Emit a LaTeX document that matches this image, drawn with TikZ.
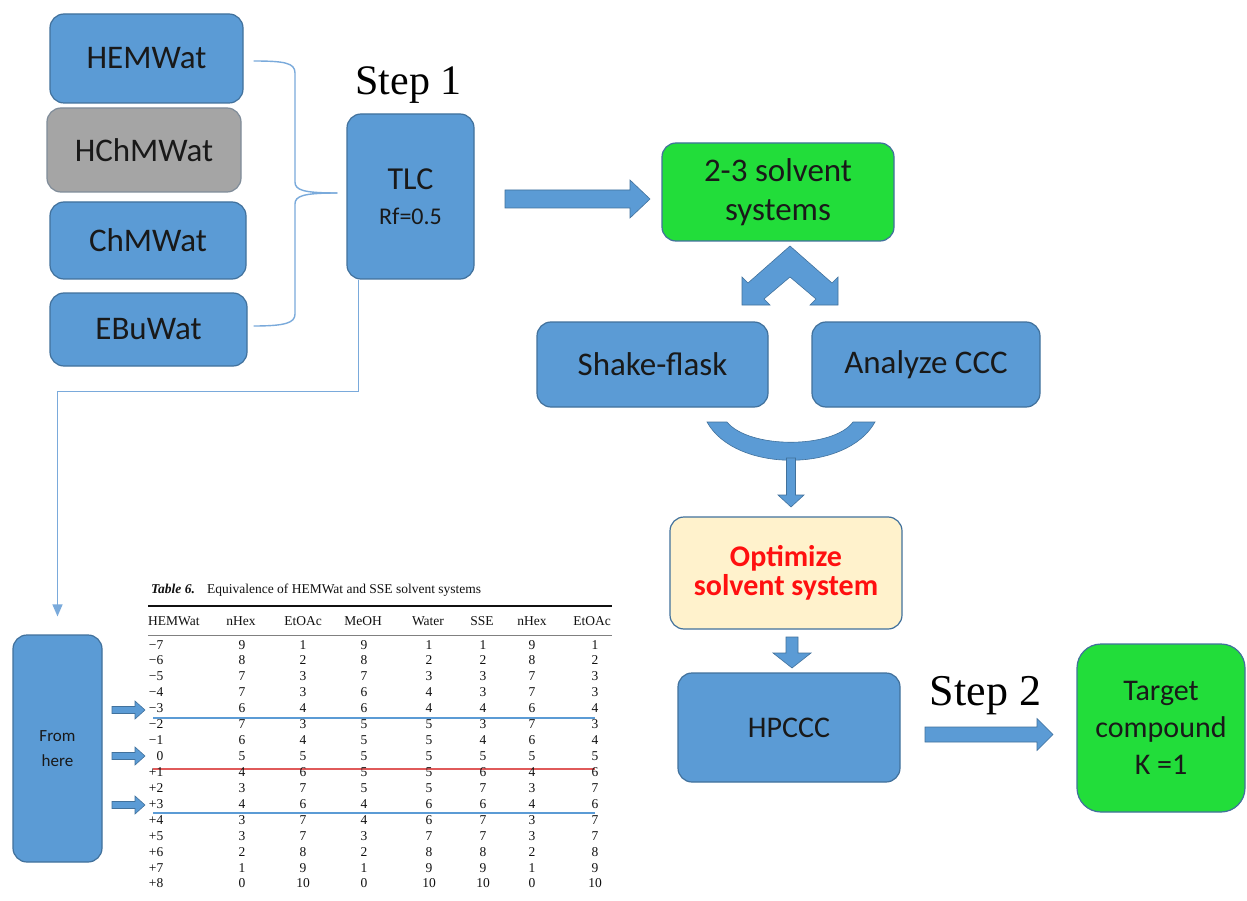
\documentclass[tikz,border=0pt]{standalone}
\usepackage{fontspec}
\setmainfont{Carlito}
\newfontfamily\timesf{Liberation Serif}
\usetikzlibrary{arrows.meta,calc}
\definecolor{boxblue}{HTML}{5B9BD5}
\definecolor{edgeblue}{HTML}{41719C}
\definecolor{lgreen}{HTML}{22DD3A}
\definecolor{cream}{HTML}{FFF2CC}
\definecolor{greybox}{HTML}{A5A5A5}
\definecolor{greyedge}{HTML}{7F8C99}
\definecolor{linkblue}{HTML}{7AAADB}
\definecolor{tablered}{HTML}{E05A5A}
\definecolor{tabtext}{HTML}{111111}
\definecolor{optred}{HTML}{FF1010}
\newcommand\harrow[6]{% x1 x2 y shafthalf headhalf headlen
  \filldraw[barrow] (#1,#3-#4) -- (#2-#6,#3-#4) -- (#2-#6,#3-#5) -- (#2,#3)
    -- (#2-#6,#3+#5) -- (#2-#6,#3+#4) -- (#1,#3+#4) -- cycle;}
\newcommand\varrow[6]{% x y1 y2 shafthalf headhalf headlen
  \filldraw[barrow] (#1-#4,#2) -- (#1+#4,#2) -- (#1+#4,#3-#6) -- (#1+#5,#3-#6)
    -- (#1,#3) -- (#1-#5,#3-#6) -- (#1-#4,#3-#6) -- cycle;}
\begin{document}
\begin{tikzpicture}[x=1pt,y=-1pt,
  box/.style={rectangle,rounded corners=14pt,draw=edgeblue,line width=1.2pt,
    fill=boxblue,font=\fontsize{33}{39}\selectfont,align=center,
    text=black!90,inner sep=0pt},
  greenbox/.style={box,fill=lgreen},
  barrow/.style={fill=boxblue,draw=edgeblue,line width=0.6pt,line join=miter},
  link/.style={draw=linkblue,line width=1.4pt},
  steplbl/.style={font=\timesf\fontsize{42}{48}\selectfont,inner sep=0pt,anchor=base},
  tab/.style={font=\timesf\fontsize{13.5}{16}\selectfont,text=tabtext,inner sep=0pt}]
\useasboundingbox[fill=white] (0,0) rectangle (1247,901);

% left solvent family boxes
\node[box,minimum width=193pt,minimum height=89pt] (hem) at (146.5,58.5) {HEMWat};
\node[box,fill=greybox,draw=greyedge,minimum width=194pt,minimum height=84pt] (hch) at (144,150) {HChMWat};
\node[box,minimum width=196pt,minimum height=77pt] (chm) at (148,240.5) {ChMWat};
\node[box,minimum width=197pt,minimum height=73pt] (ebu) at (148.5,329.5) {EBuWat};

% TLC
\node[box,minimum width=127pt,minimum height=165pt] (tlc) at (410.5,196.5)
  {{\fontsize{32}{36}\selectfont TLC}\\[-4pt]{\fontsize{24}{28}\selectfont Rf=0.5}};
\node[steplbl] (step1) at (408.5,95) {Step 1};

% brace
\coordinate (btop) at ($(hem.east)+(10,2.5)$);
\coordinate (bbot) at ($(ebu.east)+(6,-3.5)$);
\coordinate (btip) at ($(tlc.west)+(-9,-3.5)$);
\draw[link] (btop) .. controls (285,61) and (295,63) .. (295,73) -- (295,182)
  .. controls (295,190) and (303,193) .. (btip);
\draw[link] (btip) .. controls (303,193) and (295,196) .. (295,204) -- (295,314)
  .. controls (295,323) and (285,326) .. (bbot);

% right column
\node[greenbox,minimum width=232pt,minimum height=98pt] (sol) at (778,192) {2-3 solvent\\systems};
\node[box,minimum width=231pt,minimum height=85pt] (shake) at (652.5,364.5) {Shake-flask};
\node[box,minimum width=228pt,minimum height=85pt] (ana) at (926,364.5) {Analyze CCC};
\node[box,fill=cream,minimum width=232pt,minimum height=112pt,text=optred,
  font=\bfseries\fontsize{30}{29}\selectfont] (opt) at (786,573) {Optimize\\solvent system};
\node[box,minimum width=222pt,minimum height=109pt,font=\fontsize{30}{36}\selectfont] (hp) at (789,727.5) {HPCCC};
\node[greenbox,rounded corners=24pt,minimum width=168pt,minimum height=168pt,
  font=\fontsize{30}{37}\selectfont] (tgt) at (1161,728) {Target\\compound\\K =1};
\node[steplbl,font=\timesf\fontsize{44}{50}\selectfont] (step2) at (985.5,705) {Step 2};

% block arrows
\harrow{505}{650}{199}{9}{19}{20}
\harrow{925}{1053}{734.5}{7.5}{16}{16}
\filldraw[barrow] (790,246) -- (748,283) -- (742,277) -- (742,305) -- (770,305)
  -- (764,299) -- (790,277) -- (816,299) -- (810,305) -- (838,305) -- (838,277)
  -- (832,283) -- cycle;
\filldraw[barrow] (707,422) .. controls (735,473) and (847,473) .. (875,422)
  -- (853,422) .. controls (833,449) and (749,449) .. (727,422) -- cycle;
\varrow{791}{458}{507}{4.5}{13}{12}
\varrow{792}{637}{668}{6}{19}{15}

% from-here box and link from TLC
\node[box,minimum width=89pt,minimum height=227pt,font=\fontsize{17}{25}\selectfont] (from) at (57.5,748.5) {From\\here};
\draw[link,-{Triangle[width=10pt,length=12pt]}] ($(tlc.south west)+(12,0)$) -- ++(0,112)
  -| ($(from.north)+(0,-18)$);
\harrow{112}{145}{710}{3.5}{9}{10}
\harrow{112}{145}{756}{3.5}{9}{10}
\harrow{112}{145}{805}{3.5}{9}{10}

% table
\node[tab,anchor=base west] (cap) at (151,593)
  {\textbf{\textit{Table 6.}}\hspace{0.9em}Equivalence of HEMWat and SSE solvent systems};
\draw[line width=2pt,draw=tabtext] (148,606) -- (612,606);
\node[tab,anchor=base west] (h0) at (148,625) {HEMWat};
\foreach \x/\t [count=\k] in {241/nHex,303/EtOAc,363/MeOH,428/Water,482/SSE,532/nHex,592/EtOAc}
  \node[tab,anchor=base] (h\k) at (\x,625) {\t};
\draw[line width=0.8pt,draw=gray] (148,635) -- (612,635);
\draw[line width=1.4pt,draw=boxblue] (153,718) -- (595,718);
\draw[line width=1.4pt,draw=tablered] (153,769) -- (595,769);
\draw[line width=1.4pt,draw=boxblue] (153,813) -- (595,813);
\foreach \a/\b/\c/\d/\e/\f/\g/\h [count=\i from 0] in {
  −7/9/1/9/1/1/9/1, −6/8/2/8/2/2/8/2, −5/7/3/7/3/3/7/3, −4/7/3/6/4/3/7/3,
  −3/6/4/6/4/4/6/4, −2/7/3/5/5/3/7/3, −1/6/4/5/5/4/6/4, 0/5/5/5/5/5/5/5,
  +1/4/6/5/5/6/4/6, +2/3/7/5/5/7/3/7, +3/4/6/4/6/6/4/6, +4/3/7/4/6/7/3/7,
  +5/3/7/3/7/7/3/7, +6/2/8/2/8/8/2/8, +7/1/9/1/9/9/1/9, +8/0/10/0/10/10/0/10}{
  \node[tab,anchor=base east] (r\i-0) at (163.5,649+15.93*\i) {\a};
  \foreach \x/\v [count=\k] in {242/\b,303/\c,364/\d,429/\e,483/\f,532/\g,595/\h}
    \node[tab,anchor=base] (r\i-\k) at (\x,649+15.93*\i) {\v};
}
\end{tikzpicture}
\end{document}
